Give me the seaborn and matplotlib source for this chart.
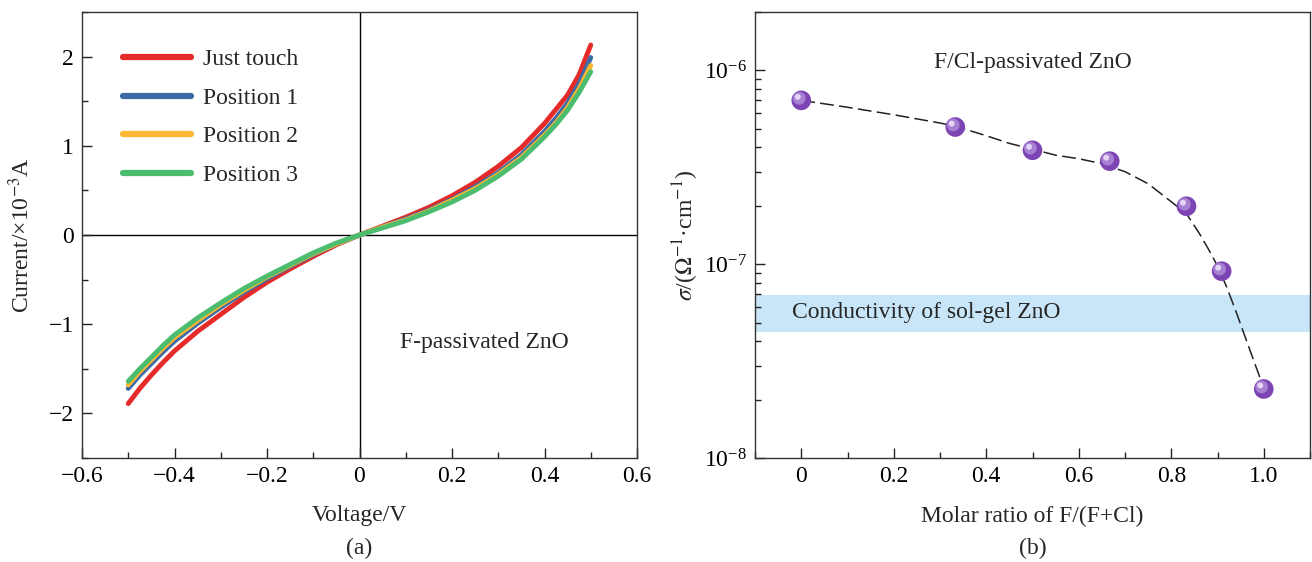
import numpy as np
import pandas as pd
import seaborn as sns
import matplotlib.pyplot as plt
from matplotlib.ticker import MultipleLocator, FuncFormatter
import matplotlib.transforms as mtransforms

# ---- panel (a): I-V curves ----
voltage = [-0.5, -0.475, -0.45, -0.425, -0.4, -0.35, -0.3, -0.25, -0.2, -0.15, -0.1, -0.05, 0.0,
           0.05, 0.1, 0.15, 0.2, 0.25, 0.3, 0.35, 0.4, 0.425, 0.45, 0.475, 0.5]
just_touch = [-1.89, -1.72, -1.57, -1.43, -1.30, -1.08, -0.89, -0.70, -0.53, -0.38, -0.24, -0.11, 0.0,
              0.10, 0.20, 0.31, 0.44, 0.59, 0.77, 0.98, 1.25, 1.41, 1.57, 1.80, 2.13]
position_1 = [-1.72, -1.57, -1.44, -1.31, -1.19, -0.99, -0.81, -0.64, -0.49, -0.35, -0.22, -0.10, 0.0,
              0.09, 0.18, 0.28, 0.40, 0.54, 0.70, 0.90, 1.16, 1.31, 1.48, 1.70, 1.99]
position_2 = [-1.68, -1.53, -1.40, -1.27, -1.15, -0.96, -0.78, -0.62, -0.47, -0.34, -0.21, -0.10, 0.0,
              0.09, 0.17, 0.27, 0.39, 0.52, 0.68, 0.87, 1.12, 1.26, 1.43, 1.64, 1.90]
position_3 = [-1.64, -1.50, -1.37, -1.24, -1.12, -0.93, -0.76, -0.60, -0.46, -0.33, -0.20, -0.09, 0.0,
              0.08, 0.16, 0.26, 0.37, 0.50, 0.66, 0.85, 1.10, 1.24, 1.40, 1.60, 1.83]
series_names = ["Just touch", "Position 1", "Position 2", "Position 3"]
series_colors = ["#e52a2a", "#3d6aa5", "#fbb731", "#4cbd6e"]

# ---- panel (b): conductivity vs molar ratio ----
ratio = [0.0, 0.333, 0.5, 0.667, 0.833, 0.909, 1.0]
sigma = [7.0e-7, 5.1e-7, 3.87e-7, 3.4e-7, 1.99e-7, 9.2e-8, 2.27e-8]
fit_x = [0.0, 0.1, 0.2, 0.3, 0.333, 0.4, 0.45, 0.5, 0.55, 0.6, 0.65, 0.7, 0.75,
         0.8, 0.833, 0.86, 0.88, 0.9, 0.92, 0.94, 0.96, 0.98, 1.0]
fit_y = [7.0e-7, 6.45e-7, 5.9e-7, 5.35e-7, 5.15e-7, 4.6e-7, 4.2e-7, 3.92e-7, 3.65e-7,
         3.5e-7, 3.3e-7, 3.0e-7, 2.6e-7, 2.1e-7, 1.82e-7, 1.45e-7, 1.2e-7, 9.8e-8,
         7.6e-8, 5.7e-8, 4.2e-8, 3.1e-8, 2.3e-8]
band_low, band_high = 4.46e-8, 6.9e-8

sns.set_theme(style="ticks")
plt.rcParams['font.family'] = ['Liberation Serif', 'DejaVu Serif']
plt.rcParams['mathtext.fontset'] = 'stix'
plt.rcParams['axes.unicode_minus'] = True
FS = 17

fig = plt.figure(figsize=(13.12, 5.62), dpi=100)
ax1 = fig.add_axes([82 / 1312, 1 - 458 / 562, 555 / 1312, 446 / 562])
ax2 = fig.add_axes([755 / 1312, 1 - 458 / 562, 555 / 1312, 446 / 562])

df = pd.DataFrame({
    "V": voltage * 4,
    "I": just_touch + position_1 + position_2 + position_3,
    "series": sum([[n] * len(voltage) for n in series_names], []),
})
sns.lineplot(data=df, x="V", y="I", hue="series", hue_order=series_names,
             palette=series_colors, linewidth=3.5, ax=ax1, sort=False,
             estimator=None, solid_capstyle="round", solid_joinstyle="round")
ax1.axhline(0, color="black", lw=1, zorder=0)
ax1.axvline(0, color="black", lw=1, zorder=0)
ax1.set_xlim(-0.6, 0.6)
ax1.set_ylim(-2.5, 2.5)
ax1.xaxis.set_major_locator(MultipleLocator(0.2))
ax1.xaxis.set_minor_locator(MultipleLocator(0.1))
ax1.yaxis.set_major_locator(MultipleLocator(1))
ax1.yaxis.set_minor_locator(MultipleLocator(0.5))
ax1.xaxis.set_major_formatter(FuncFormatter(
    lambda v, p: "0" if abs(v) < 1e-9 else f"{v:.1f}".replace("-", "\u2212")))
ax1.yaxis.set_major_formatter(FuncFormatter(
    lambda v, p: f"{v:.0f}".replace("-", "\u2212") if abs(v) > 1e-9 else "0"))
ax1.set_xlabel("Voltage/V", fontsize=FS, labelpad=13)
ax1.set_ylabel("Current/×10$^{-3}$A", fontsize=FS, labelpad=10)
ax1.text(0.27, -1.2, "F-passivated ZnO", fontsize=FS, ha="center", va="center")
leg = ax1.legend(loc="upper left", bbox_to_anchor=(0.035, 0.965), frameon=False,
                 fontsize=FS, handlelength=2.9, labelspacing=0.72, handletextpad=0.5)
for line in leg.get_lines():
    line.set_linewidth(4.5)

# panel (b)
ax2.axhspan(band_low, band_high, color="#c8e6f7", lw=0, zorder=0)
sns.lineplot(x=fit_x, y=fit_y, ax=ax2, color="#222222", lw=1.1,
             linestyle=(0, (9, 3.5)), sort=False, estimator=None)
sns.scatterplot(x=ratio, y=sigma, ax=ax2, s=200, color="#7d45b3",
                edgecolor="none", zorder=3)
hl = mtransforms.offset_copy(ax2.transData, fig=fig, x=-1.5, y=1.5, units="points")
ax2.scatter(ratio, sigma, s=85, color="#a77fd3", edgecolor="none", zorder=4, transform=hl)
hl2 = mtransforms.offset_copy(ax2.transData, fig=fig, x=-2.5, y=2.5, units="points")
ax2.scatter(ratio, sigma, s=18, color="#e6d6f5", edgecolor="none", zorder=5, transform=hl2)
ax2.set_yscale("log")
ax2.set_xlim(-0.1, 1.1)
ax2.set_ylim(1e-8, 2e-6)
ax2.xaxis.set_major_locator(MultipleLocator(0.2))
ax2.xaxis.set_minor_locator(MultipleLocator(0.1))
ax2.xaxis.set_major_formatter(FuncFormatter(
    lambda v, p: "0" if abs(v) < 1e-9 else f"{v:.1f}"))
ax2.set_xlabel("Molar ratio of F/(F+Cl)", fontsize=FS, labelpad=13)
ax2.set_ylabel(r"$\sigma$/($\Omega^{-1}$·cm$^{-1}$)", fontsize=FS, labelpad=2)
ax2.text(0.5, 1.1e-6, "F/Cl-passivated ZnO", fontsize=FS, ha="center", va="center")
ax2.text(-0.02, 5.6e-8, "Conductivity of sol-gel ZnO", fontsize=FS, ha="left", va="center")

for ax in (ax1, ax2):
    ax.tick_params(which="major", direction="in", length=7, width=1, labelsize=FS,
                   colors="#222222", labelcolor="black", pad=6)
    ax.tick_params(which="minor", direction="in", length=4, width=1, colors="#222222")
    for s in ax.spines.values():
        s.set_visible(True)
        s.set_linewidth(1)
        s.set_color("#333333")

fig.text((82 + 637) / 2 / 1312, 1 - 548 / 562, "(a)", fontsize=FS, ha="center", va="center")
fig.text((755 + 1310) / 2 / 1312, 1 - 548 / 562, "(b)", fontsize=FS, ha="center", va="center")

fig.savefig("out.png", dpi=100)
